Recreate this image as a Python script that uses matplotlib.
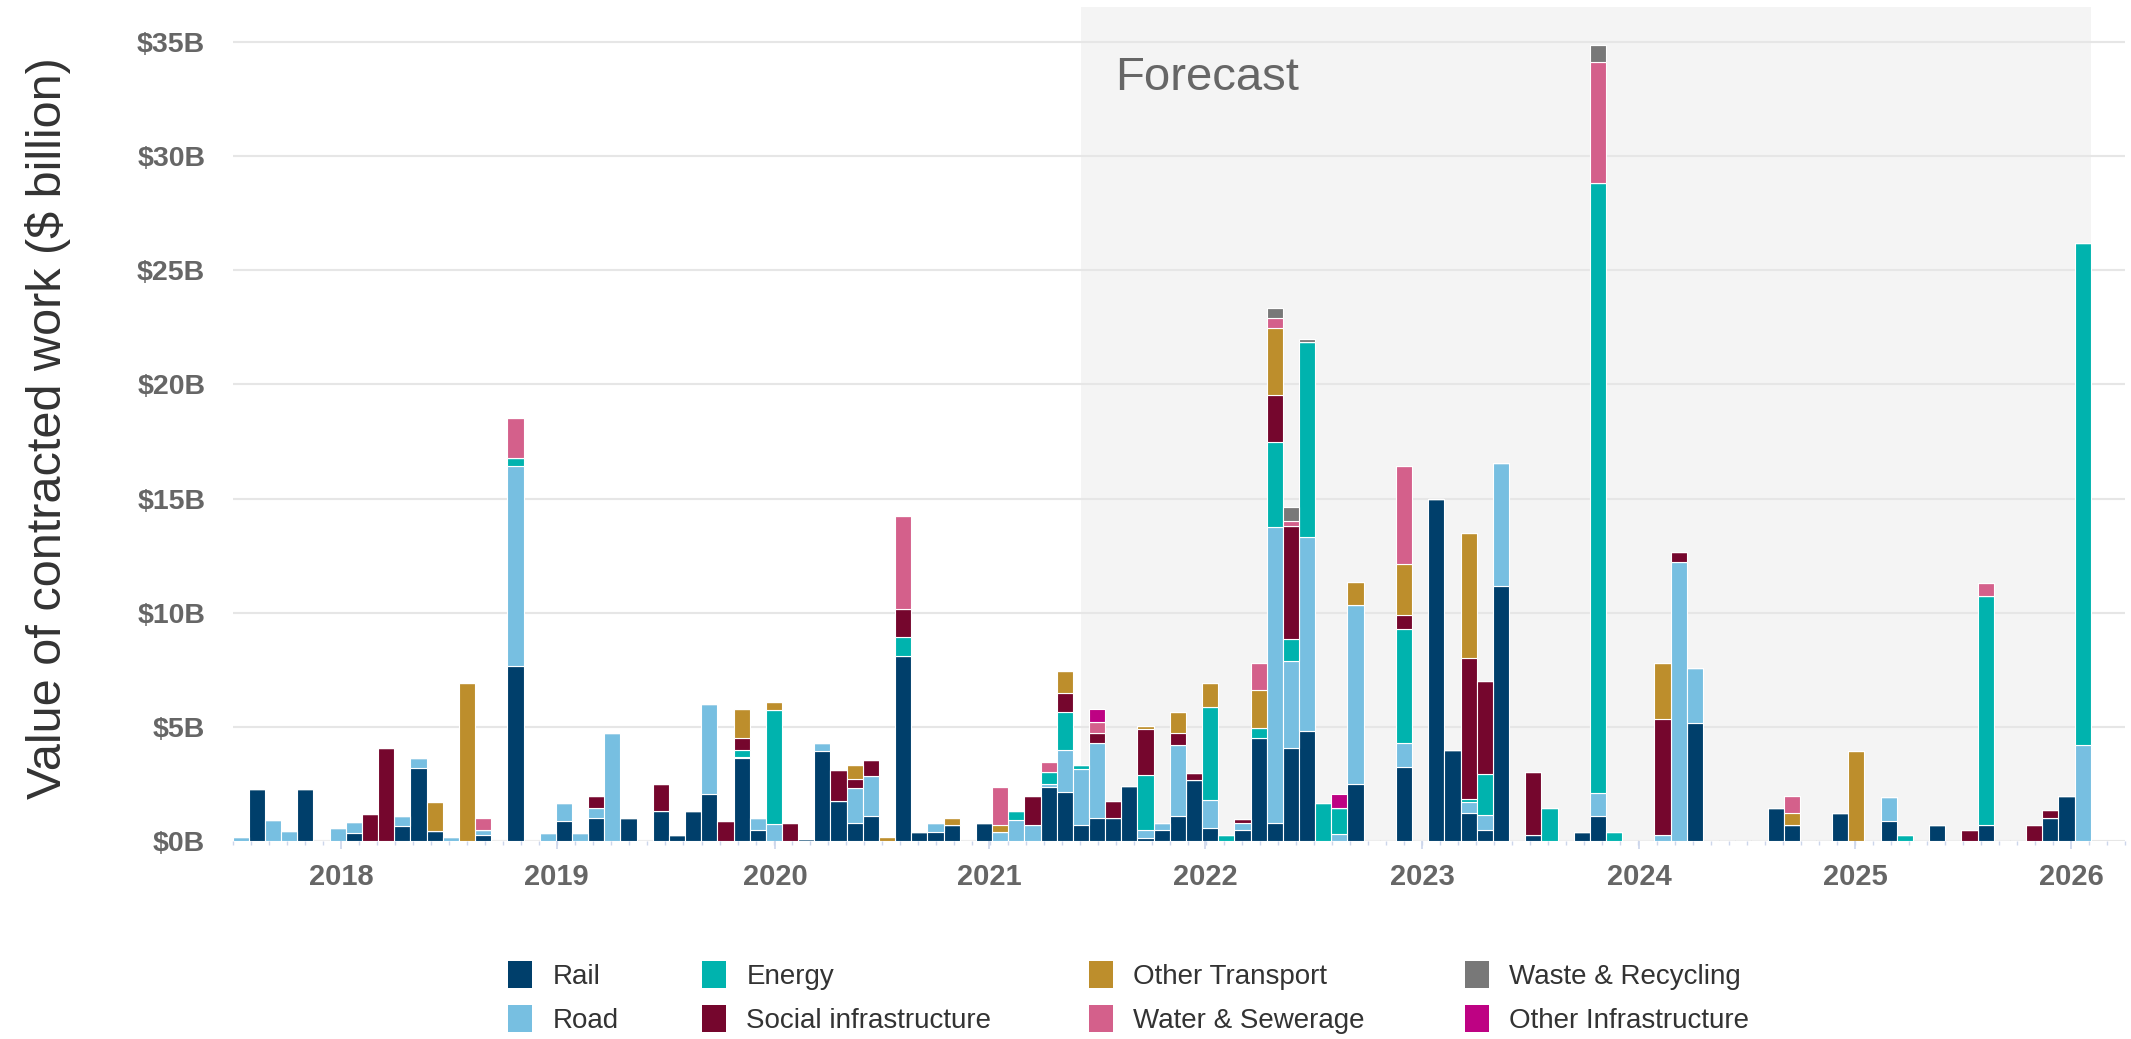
import numpy as np
import matplotlib.pyplot as plt
from matplotlib.patches import Patch

plt.rcParams['font.family'] = ['Liberation Sans', 'DejaVu Sans']

# value of contracted work ($ billion) per period slot, one list per sector
rail = [0, 2.26, 0, 0, 2.26, 0, 0, 0.35, 0, 0,
        0.67, 3.18, 0.45, 0, 0, 0.26, 0, 7.66, 0, 0,
        0.89, 0, 0.99, 0, 0.99, 0, 1.33, 0.26, 1.33, 2.06,
        0, 3.65, 0.48, 0, 0, 0.07, 3.96, 1.75, 0.77, 1.11,
        0, 8.1, 0.38, 0.38, 0.7, 0, 0.8, 0, 0, 0,
        2.38, 2.16, 0.7, 1.02, 1.02, 2.41, 0.15, 0.48, 1.11, 2.67,
        0.55, 0, 0.48, 4.5, 0.8, 4.09, 4.83, 0, 0, 2.5,
        0, 0, 3.23, 0, 14.98, 3.99, 1.21, 0.48, 11.17, 0,
        0.26, 0, 0, 0.38, 1.11, 0, 0, 0, 0, 0,
        5.15, 0, 0, 0, 0, 1.43, 0.7, 0, 0, 1.21,
        0, 0, 0.89, 0, 0, 0.7, 0, 0, 0.7, 0,
        0, 0, 1.02, 1.97, 0]
road = [0.16, 0, 0.9, 0.45, 0, 0, 0.55, 0.5, 0, 0,
        0.44, 0.47, 0, 0.16, 0, 0.22, 0, 8.76, 0, 0.36,
        0.76, 0.36, 0.47, 4.72, 0, 0, 0, 0, 0, 3.93,
        0, 0.05, 0.51, 0.74, 0, 0, 0.35, 0, 1.54, 1.74,
        0, 0, 0, 0.39, 0, 0, 0, 0.38, 0.92, 0.7,
        0.1, 1.83, 2.44, 3.29, 0, 0, 0.35, 0.29, 3.09, 0,
        1.25, 0, 0.32, 0, 12.97, 3.79, 8.47, 0, 0.3, 7.84,
        0, 0, 1.08, 0, 0, 0, 0.51, 0.66, 5.4, 0,
        0, 0, 0, 0, 0.98, 0, 0, 0, 0.26, 12.23,
        2.41, 0, 0, 0, 0, 0, 0, 0, 0, 0,
        0, 0, 1.05, 0, 0, 0, 0, 0, 0, 0,
        0, 0, 0, 0, 4.2]
energy = [0, 0, 0, 0, 0, 0, 0, 0, 0, 0,
          0, 0, 0, 0, 0, 0, 0, 0.34, 0, 0,
          0, 0, 0, 0, 0, 0, 0, 0, 0, 0,
          0, 0.29, 0, 5.0, 0, 0, 0, 0, 0, 0,
          0, 0.85, 0, 0, 0, 0, 0, 0, 0.39, 0,
          0.56, 1.67, 0.19, 0, 0, 0, 2.4, 0, 0, 0,
          4.08, 0.26, 0, 0.43, 3.69, 0.95, 8.55, 1.65, 1.16, 0,
          0, 0, 4.96, 0, 0, 0, 0.1, 1.78, 0, 0,
          0, 1.46, 0, 0, 26.74, 0.38, 0, 0, 0, 0,
          0, 0, 0, 0, 0, 0, 0, 0, 0, 0,
          0, 0, 0, 0.26, 0, 0, 0, 0, 10.03, 0,
          0, 0, 0, 0, 22.0]
social = [0, 0, 0, 0, 0, 0, 0, 0, 1.2, 4.06,
          0, 0, 0, 0, 0, 0, 0, 0, 0, 0,
          0, 0, 0.51, 0, 0, 0, 1.17, 0, 0, 0,
          0.89, 0.51, 0, 0, 0.8, 0, 0, 1.36, 0.39, 0.7,
          0, 1.23, 0, 0, 0, 0, 0, 0, 0, 1.27,
          0, 0.84, 0, 0.41, 0.73, 0, 2.02, 0, 0.52, 0.3,
          0, 0, 0.15, 0, 2.06, 4.97, 0, 0, 0, 0,
          0, 0, 0.63, 0, 0, 0, 6.18, 4.1, 0, 0,
          2.78, 0, 0, 0, 0, 0, 0, 0, 5.07, 0.41,
          0, 0, 0, 0, 0, 0, 0, 0, 0, 0,
          0, 0, 0, 0, 0, 0, 0, 0.48, 0, 0,
          0, 0.7, 0.34, 0, 0]
other_transport = [0, 0, 0, 0, 0, 0, 0, 0, 0, 0,
                   0, 0, 1.27, 0, 6.9, 0, 0, 0, 0, 0,
                   0, 0, 0, 0, 0, 0, 0, 0, 0, 0,
                   0, 1.28, 0, 0.36, 0, 0, 0, 0, 0.63, 0,
                   0.16, 0, 0, 0, 0.29, 0, 0, 0.32, 0, 0,
                   0, 0.96, 0, 0, 0, 0, 0.1, 0, 0.94, 0,
                   1.05, 0, 0, 1.68, 2.96, 0, 0, 0, 0, 1.02,
                   0, 0, 2.23, 0, 0, 0, 5.47, 0, 0, 0,
                   0, 0, 0, 0, 0, 0, 0, 0, 2.45, 0,
                   0, 0, 0, 0, 0, 0, 0.51, 0, 0, 0,
                   3.96, 0, 0, 0, 0, 0, 0, 0, 0, 0,
                   0, 0, 0, 0, 0]
water = [0, 0, 0, 0, 0, 0, 0, 0, 0, 0,
         0, 0, 0, 0, 0, 0.51, 0, 1.78, 0, 0,
         0, 0, 0, 0, 0, 0, 0, 0, 0, 0,
         0, 0, 0, 0, 0, 0, 0, 0, 0, 0,
         0, 4.05, 0, 0, 0, 0, 0, 1.68, 0, 0,
         0.41, 0, 0, 0.51, 0, 0, 0, 0, 0, 0,
         0, 0, 0, 1.17, 0.43, 0.23, 0, 0, 0, 0,
         0, 0, 4.29, 0, 0, 0, 0, 0, 0, 0,
         0, 0, 0, 0, 5.28, 0, 0, 0, 0, 0,
         0, 0, 0, 0, 0, 0, 0.76, 0, 0, 0,
         0, 0, 0, 0, 0, 0, 0, 0, 0.55, 0,
         0, 0, 0, 0, 0]
waste = [0] * 115
waste[64], waste[65], waste[66], waste[84] = 0.44, 0.61, 0.13, 0.76
other_infra = [0] * 115
other_infra[53], other_infra[68] = 0.54, 0.6

sectors = ['Rail', 'Road', 'Energy', 'Social infrastructure',
           'Other Transport', 'Water & Sewerage', 'Waste & Recycling',
           'Other Infrastructure']
colors = ['#003F6B', '#77BFE1', '#00B3AE', '#75062D',
          '#BD8E2C', '#D4608B', '#787878', '#BE0283']
series = [rail, road, energy, social, other_transport, water, waste, other_infra]

year_labels = ['2018', '2019', '2020', '2021', '2022', '2023', '2024', '2025', '2026']
year_pos = [6.21, 19.55, 33.07, 46.34, 59.68, 73.14, 86.54, 99.94, 113.28]
forecast_start = 52
forecast_end = 114.5

fig = plt.figure(figsize=(21.31, 10.39), dpi=100)
ax = fig.add_axes([0.10934, 0.19057, 0.88785, 0.80269])

x = np.arange(len(rail))
bottom = np.zeros(len(rail))
for name, vals, col in zip(sectors, series, colors):
    vals = np.array(vals, dtype=float)
    ax.bar(x, vals, width=1.0, bottom=bottom, color=col, edgecolor='white',
           linewidth=0.8, zorder=3, label=name)
    bottom += vals

ax.set_xlim(-0.37, 115.92)
ax.set_ylim(0, 36.53)
ax.axvspan(forecast_start, forecast_end, color='#F4F4F4', zorder=0, lw=0)
ax.text(0.4662, 0.915, 'Forecast', transform=ax.transAxes, fontsize=34,
        color='#666666', va='center', ha='left')

ax.set_yticks(range(0, 36, 5))
ax.set_yticklabels(['$%dB' % v for v in range(0, 36, 5)])
ax.yaxis.grid(True, color='#E6E6E6', linewidth=1.5, zorder=1)
ax.set_axisbelow(True)
ax.tick_params(axis='y', length=0, pad=20, labelsize=20.5, labelcolor='#666666')
for lab in ax.get_yticklabels():
    lab.set_fontweight('bold')

ax.set_xticks(year_pos)
ax.set_xticklabels(year_labels)
step = (year_pos[-1] - year_pos[0]) / 96
ax.set_xticks(year_pos[0] + step * np.arange(-6, 100), minor=True)
ax.tick_params(axis='x', which='major', length=6, width=1.2, color='#CCD6EB',
               pad=10, labelsize=21, labelcolor='#666666')
ax.tick_params(axis='x', which='minor', length=3, width=1.0, color='#CCD6EB')
for lab in ax.get_xticklabels():
    lab.set_fontweight('bold')

for s in ax.spines.values():
    s.set_visible(False)

fig.text(0.0225, 0.588, 'Value of contracted work ($ billion)', rotation=90,
         ha='center', va='center', fontsize=35, color='#333333')

# legend: four columns of two entries
handles = [Patch(facecolor=c, edgecolor='none') for c in colors]
col_x = [508, 702, 1089, 1465]
for c in range(4):
    fig.legend(handles[2 * c:2 * c + 2], sectors[2 * c:2 * c + 2],
               loc='center left', bbox_to_anchor=(col_x[c] / 2131, 0.0399),
               frameon=False, fontsize=20, labelcolor='#333333',
               handlelength=0.85, handleheight=1.1, handletextpad=0.75,
               labelspacing=0.55, borderpad=0, borderaxespad=0)

fig.savefig('out.png', dpi=100)
